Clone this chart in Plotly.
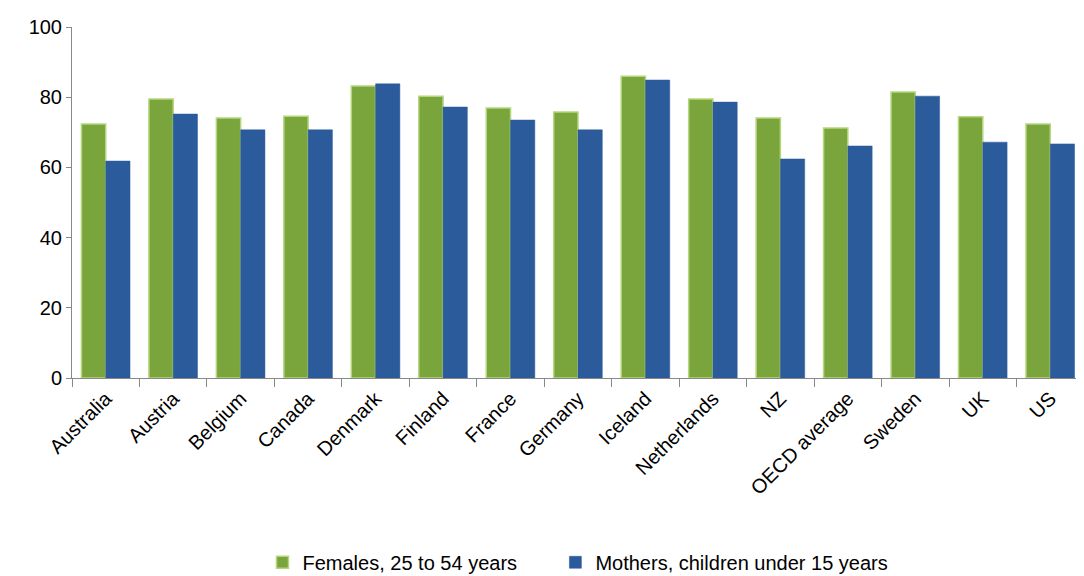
import plotly.graph_objects as go

countries = ["Australia","Austria","Belgium","Canada","Denmark","Finland","France","Germany","Iceland","Netherlands","NZ","OECD average","Sweden","UK","US"]
females = [72.4,79.5,74.1,74.6,83.2,80.3,76.9,75.8,86.0,79.5,74.1,71.2,81.5,74.4,72.4]
mothers = [61.8,75.2,70.7,70.7,83.8,77.2,73.5,70.7,84.9,78.6,62.4,66.1,80.3,67.2,66.7]

fig = go.Figure()
fig.add_bar(x=countries, y=females, name="Females, 25 to 54 years      ",
            marker=dict(color="#7aa43c", line=dict(color="#b6d67e", width=1.5)))
fig.add_bar(x=countries, y=mothers, name="Mothers, children under 15 years",
            marker=dict(color="#2b5b9b", line=dict(color="#2b5b9b", width=0.5)))
fig.update_layout(
    width=1076, height=566, barmode="group", bargap=0.28, bargroupgap=0,
    plot_bgcolor="white", paper_bgcolor="white",
    margin=dict(l=64, r=0, t=19, b=196, autoexpand=False),
    font=dict(family="Liberation Sans, Arial", size=20, color="black"),
    legend=dict(orientation="h", x=0.5, xanchor="center", y=-0.525, yanchor="middle",
                font=dict(size=20), itemwidth=30, tracegroupgap=0),
    showlegend=True,
)
fig.update_yaxes(range=[0,100], dtick=20, showgrid=False, showline=True, linecolor="#888",
                 ticks="outside", ticklen=5, tickcolor="#888", zeroline=False, automargin=False)
fig.update_xaxes(showline=True, linecolor="#888", tickangle=-45, ticks="outside",
                 tickson="boundaries", ticklen=8, tickcolor="#888", automargin=False)
fig.write_html("out.html")
